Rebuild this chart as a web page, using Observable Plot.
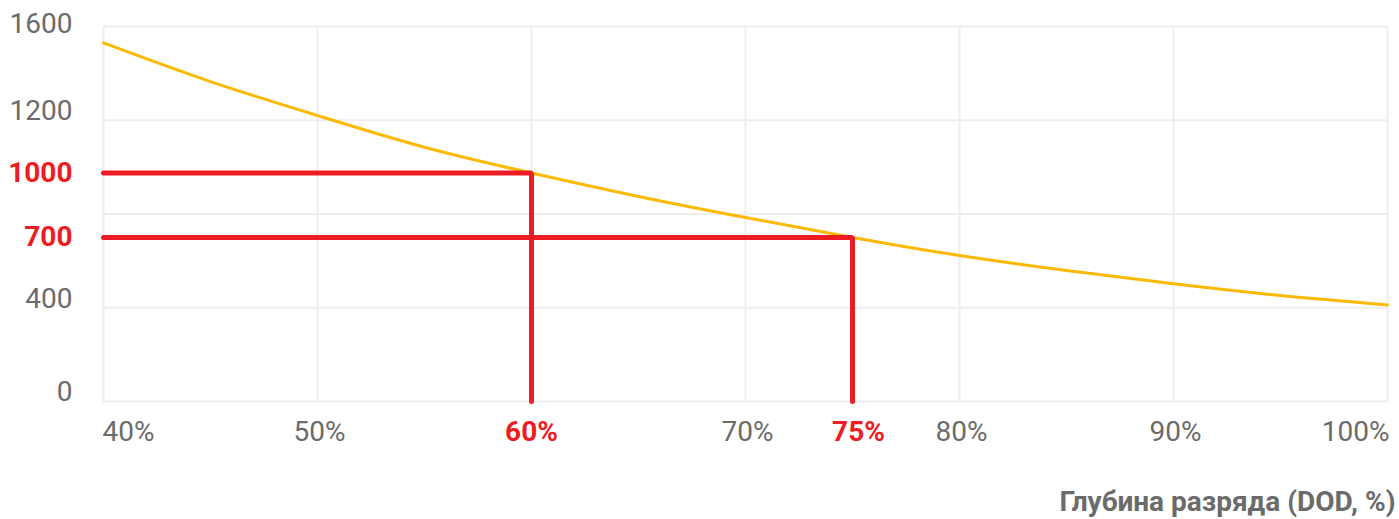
<!DOCTYPE html>
<html>
<head>
<meta charset="utf-8">
<script src="https://cdn.jsdelivr.net/npm/d3@7"></script>
<script src="https://cdn.jsdelivr.net/npm/@observablehq/plot@0.6"></script>
<style>
  html, body { margin: 0; padding: 0; background: #fff; }
</style>
</head>
<body>
<div id="chart"></div>
<script>
// Depth of discharge (%) and cycle count
const dod = [40, 45, 50, 55, 60, 65, 70, 75, 80, 85, 90, 95, 100];
const cycles = [1530, 1365, 1220, 1085, 975, 875, 785, 700, 623, 559, 502, 452, 412];

// Highlighted reference points
const markDod = [60, 75];
const markCycles = [975, 700];
const markLabels = ["1000", "700"];

// Axis ticks
const xTicks = [40, 50, 70, 80, 90, 100];
const yTicks = [0, 400, 1200, 1600];
const yGrid = [0, 400, 800, 1200, 1600];
const xLabel = "Глубина разряда (DOD, %)";

const xDomain = [40, 100];
const yDomain = [0, 1600];

const curve = dod.map((d, i) => ({dod: d, cycles: cycles[i]}));
const markers = markDod.map((d, i) => ({dod: d, cycles: markCycles[i], label: markLabels[i]}));
const markerPaths = markers.flatMap((m, i) => [
  {k: i, dod: xDomain[0], cycles: m.cycles},
  {k: i, dod: m.dod, cycles: m.cycles},
  {k: i, dod: m.dod, cycles: yDomain[0]}
]);

const gray = "#6b6b6b";
const red = "#ed1c24";
const pct = d => d + "%";

const chart = Plot.plot({
  width: 1399,
  height: 519,
  marginLeft: 103,
  marginRight: 12,
  marginTop: 26,
  marginBottom: 118,
  style: {fontFamily: "Roboto, sans-serif", fontSize: "28px", color: gray, background: "#fff"},
  x: {domain: xDomain, axis: null},
  y: {domain: yDomain, axis: null},
  marks: [
    Plot.gridX([40, 50, 60, 70, 80, 90, 100], {stroke: "#eeeeee", strokeOpacity: 1, strokeWidth: 2}),
    Plot.gridY(yGrid, {stroke: "#eeeeee", strokeOpacity: 1, strokeWidth: 2}),
    Plot.line(curve, {x: "dod", y: "cycles", stroke: "#fbb900", strokeWidth: 3, curve: "natural"}),
    Plot.line(markerPaths, {x: "dod", y: "cycles", z: "k", stroke: red, strokeWidth: 5, strokeLinejoin: "miter"}),
    // y tick labels
    Plot.text(yTicks.filter(d => d !== 1600), {y: d => d, text: d => String(d), frameAnchor: "left", dx: -31, dy: -9, textAnchor: "end", lineAnchor: "middle", fill: gray, fontSize: 28}),
    Plot.text([1600], {y: d => d, text: d => String(d), frameAnchor: "left", dx: -31, dy: -2, textAnchor: "end", lineAnchor: "middle", fill: gray, fontSize: 28}),
    Plot.text(markers, {y: "cycles", text: "label", frameAnchor: "left", dx: -31, textAnchor: "end", lineAnchor: "middle", fill: red, fontWeight: "bold", fontSize: 28}),
    // x tick labels
    Plot.text(xTicks.filter(d => d === xDomain[0]), {x: d => d, text: pct, frameAnchor: "bottom", dy: 31, dx: -1, textAnchor: "start", lineAnchor: "middle", fill: gray, fontSize: 28}),
    Plot.text(xTicks.filter(d => d !== xDomain[0] && d !== xDomain[1]), {x: d => d, text: pct, frameAnchor: "bottom", dy: 31, dx: 2, textAnchor: "middle", lineAnchor: "middle", fill: gray, fontSize: 28}),
    Plot.text(xTicks.filter(d => d === xDomain[1]), {x: d => d, text: pct, frameAnchor: "bottom", dy: 31, dx: 2, textAnchor: "end", lineAnchor: "middle", fill: gray, fontSize: 28}),
    Plot.text(markers.filter(m => m.dod === 60), {x: "dod", text: d => pct(d.dod), frameAnchor: "bottom", dy: 31, dx: 0, textAnchor: "middle", lineAnchor: "middle", fill: red, fontWeight: "bold", fontSize: 28}),
    Plot.text(markers.filter(m => m.dod !== 60), {x: "dod", text: d => pct(d.dod), frameAnchor: "bottom", dy: 31, dx: 6, textAnchor: "middle", lineAnchor: "middle", fill: red, fontWeight: "bold", fontSize: 28}),
    // axis title
    Plot.text([xLabel], {frameAnchor: "bottom-right", dx: 8, dy: 101, textAnchor: "end", lineAnchor: "middle", fill: gray, fontWeight: "bold", fontSize: 28})
  ]
});
document.getElementById("chart").appendChild(chart);
</script>
</body>
</html>
